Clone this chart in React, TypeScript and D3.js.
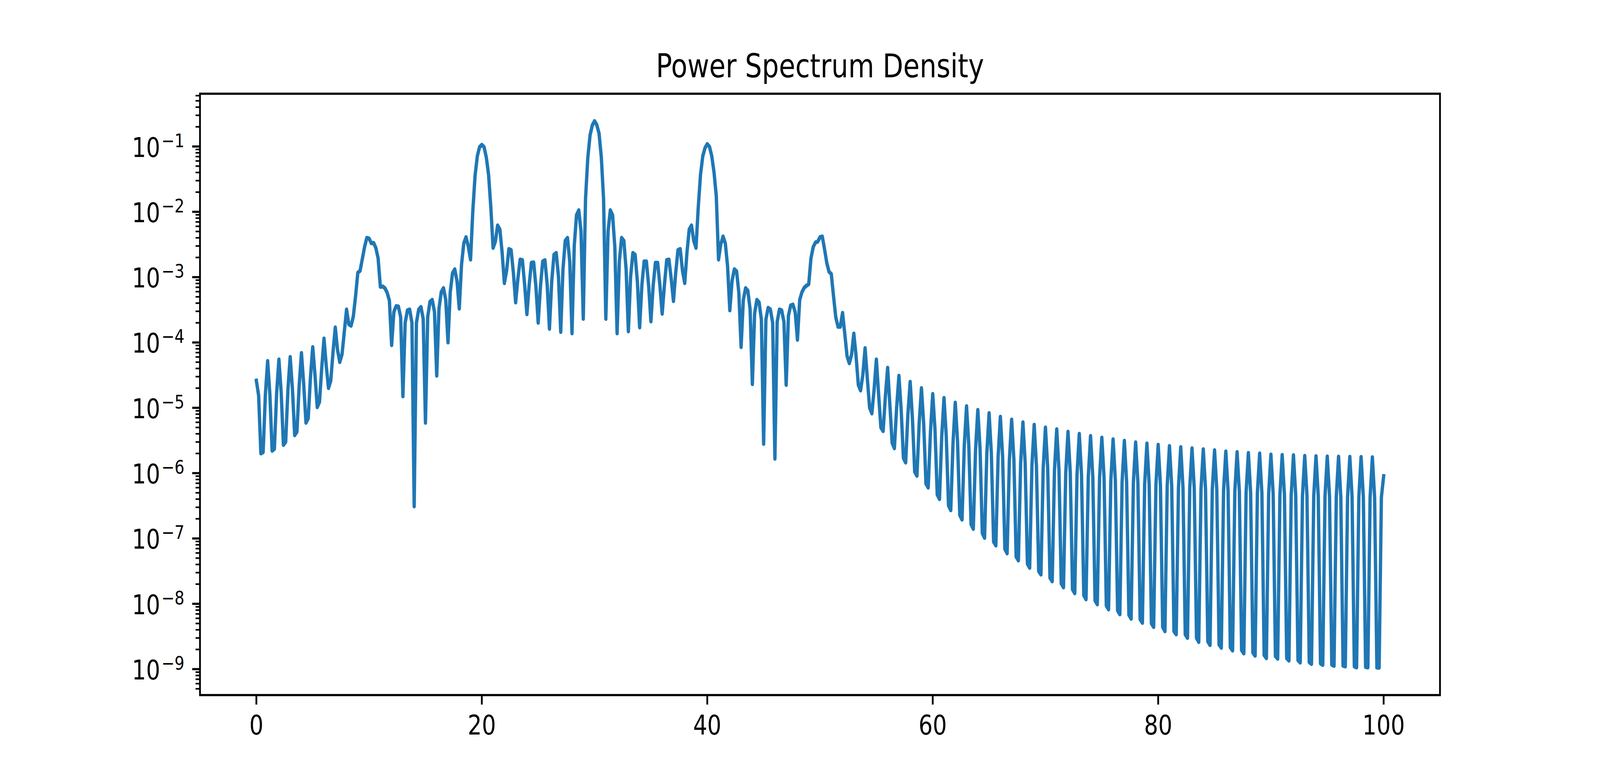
import * as d3 from 'd3';
import React from 'react';

// PSD, bins of 0.2 Hz; every row below covers 1 Hz (5 bins)
const psd00to20 = [
	2.6e-5, 1.55e-5, 2.0e-6, 2.1e-6, 1.6e-5,
	5.2e-5, 1.6e-5, 2.2e-6, 2.35e-6, 1.7e-5,
	5.5e-5, 1.74e-5, 2.7e-6, 3.0e-6, 1.9e-5,
	6.0e-5, 1.95e-5, 3.8e-6, 4.3e-6, 2.24e-5,
	6.9e-5, 2.3e-5, 5.9e-6, 6.9e-6, 2.95e-5,
	8.5e-5, 3.2e-5, 1.02e-5, 1.23e-5, 4.1e-5,
	1.15e-4, 4.4e-5, 2.0e-5, 2.6e-5, 7.1e-5,
	1.7e-4, 7.7e-5, 5.0e-5, 6.6e-5, 1.45e-4,
	3.2e-4, 1.9e-4, 1.8e-4, 2.5e-4, 5.1e-4,
	1.17e-3, 1.25e-3, 1.9e-3, 2.9e-3, 4.0e-3,
	3.9e-3, 3.3e-3, 3.35e-3, 2.8e-3, 1.95e-3,
	7.1e-4, 7.2e-4, 6.8e-4, 5.8e-4, 4.4e-4,
	9.1e-5, 2.95e-4, 3.6e-4, 3.55e-4, 2.45e-4,
	1.5e-5, 2.0e-4, 3.1e-4, 3.2e-4, 2.0e-4,
	3.1e-7, 2.0e-4, 3.2e-4, 3.5e-4, 2.3e-4,
	5.9e-6, 2.45e-4, 4.2e-4, 4.5e-4, 2.95e-4,
	3.1e-5, 3.3e-4, 5.9e-4, 6.8e-4, 4.5e-4,
	1.0e-4, 5.9e-4, 1.15e-3, 1.32e-3, 8.7e-4,
	3.3e-4, 1.55e-3, 3.3e-3, 4.1e-3, 2.95e-3,
	1.86e-3, 1.02e-2, 3.55e-2, 7.1e-2, 9.8e-2,
];

const psd20to40 = [
	1.06e-1, 9.8e-2, 6.8e-2, 3.7e-2, 1.17e-2,
	2.8e-3, 3.5e-3, 6.2e-3, 5.4e-3, 2.4e-3,
	8.1e-4, 1.26e-3, 2.7e-3, 2.6e-3, 1.17e-3,
	4.1e-4, 9.5e-4, 1.86e-3, 1.82e-3, 7.6e-4,
	2.7e-4, 7.6e-4, 1.66e-3, 1.68e-3, 7.1e-4,
	2.0e-4, 7.1e-4, 1.74e-3, 1.82e-3, 7.6e-4,
	1.62e-4, 8.5e-4, 2.2e-3, 2.35e-3, 1.02e-3,
	1.45e-4, 1.32e-3, 3.6e-3, 4.0e-3, 1.74e-3,
	1.38e-4, 3.0e-3, 8.9e-3, 1.06e-2, 5.0e-3,
	2.3e-4, 1.58e-2, 6.65e-2, 1.48e-1, 2.11e-1,
	2.45e-1, 2.14e-1, 1.58e-1, 6.9e-2, 1.58e-2,
	2.3e-4, 5.0e-3, 1.06e-2, 8.9e-3, 2.9e-3,
	1.38e-4, 1.74e-3, 4.0e-3, 3.6e-3, 1.32e-3,
	1.48e-4, 1.02e-3, 2.35e-3, 2.2e-3, 8.5e-4,
	1.7e-4, 7.6e-4, 1.74e-3, 1.74e-3, 7.4e-4,
	2.1e-4, 7.4e-4, 1.66e-3, 1.66e-3, 7.4e-4,
	2.75e-4, 7.6e-4, 1.82e-3, 1.86e-3, 9.5e-4,
	4.3e-4, 1.17e-3, 2.6e-3, 2.7e-3, 1.26e-3,
	8.1e-4, 2.4e-3, 5.4e-3, 6.2e-3, 3.6e-3,
	2.8e-3, 1.17e-2, 3.7e-2, 7.1e-2, 9.5e-2,
];

const psd40to60 = [
	1.09e-1, 9.9e-2, 7.1e-2, 4.0e-2, 1.74e-2,
	1.86e-3, 3.2e-3, 4.2e-3, 3.3e-3, 1.48e-3,
	3.1e-4, 8.8e-4, 1.32e-3, 1.23e-3, 5.8e-4,
	8.5e-5, 4.5e-4, 6.8e-4, 6.2e-4, 3.2e-4,
	2.3e-5, 2.8e-4, 4.5e-4, 4.1e-4, 2.24e-4,
	2.8e-6, 2.24e-4, 3.4e-4, 3.2e-4, 2.0e-4,
	1.66e-6, 2.07e-4, 3.2e-4, 3.1e-4, 2.07e-4,
	2.24e-5, 2.57e-4, 3.7e-4, 3.8e-4, 2.9e-4,
	1.1e-4, 4.5e-4, 5.9e-4, 6.9e-4, 7.4e-4,
	7.8e-4, 1.95e-3, 2.9e-3, 3.4e-3, 3.5e-3,
	4.1e-3, 4.2e-3, 2.7e-3, 1.66e-3, 1.21e-3,
	1.12e-3, 5.1e-4, 2.43e-4, 1.74e-4, 1.74e-4,
	2.84e-4, 1.35e-4, 6.2e-5, 4.8e-5, 6.5e-5,
	1.37e-4, 6.2e-5, 2.24e-5, 1.84e-5, 3.2e-5,
	8.2e-5, 2.8e-5, 1.0e-5, 8.2e-6, 1.9e-5,
	5.5e-5, 1.6e-5, 5.0e-6, 4.4e-6, 1.5e-5,
	4.1e-5, 1.1e-5, 2.9e-6, 2.4e-6, 1.02e-5,
	3.1e-5, 9.4e-6, 1.7e-6, 1.45e-6, 8.1e-6,
	2.5e-5, 6.9e-6, 1.05e-6, 9.1e-7, 5.9e-6,
	2.0e-5, 5.6e-6, 6.9e-7, 6.0e-7, 4.3e-6,
];

const psd60to80 = [
	1.63e-5, 4.7e-6, 4.7e-7, 4.0e-7, 3.7e-6,
	1.42e-5, 3.7e-6, 3.2e-7, 2.7e-7, 2.9e-6,
	1.2e-5, 3.1e-6, 2.28e-7, 1.94e-7, 2.66e-6,
	1.06e-5, 2.66e-6, 1.65e-7, 1.4e-7, 2.32e-6,
	9.3e-6, 2.32e-6, 1.2e-7, 1.02e-7, 2.02e-6,
	8.3e-6, 2.02e-6, 8.9e-8, 7.8e-8, 1.76e-6,
	7.3e-6, 1.8e-6, 6.9e-8, 5.9e-8, 1.6e-6,
	6.6e-6, 1.62e-6, 5.25e-8, 4.6e-8, 1.43e-6,
	6.0e-6, 1.45e-6, 4.1e-8, 3.55e-8, 1.3e-6,
	5.5e-6, 1.3e-6, 3.16e-8, 2.8e-8, 1.19e-6,
	5.0e-6, 1.19e-6, 2.5e-8, 2.2e-8, 1.11e-6,
	4.7e-6, 1.11e-6, 2.04e-8, 1.78e-8, 1.01e-6,
	4.3e-6, 1.03e-6, 1.66e-8, 1.45e-8, 9.5e-7,
	4.0e-6, 9.5e-7, 1.35e-8, 1.17e-8, 8.8e-7,
	3.7e-6, 8.8e-7, 1.12e-8, 9.8e-9, 8.5e-7,
	3.5e-6, 8.5e-7, 9.4e-9, 8.2e-9, 7.8e-7,
	3.3e-6, 7.8e-7, 7.9e-9, 6.9e-9, 7.4e-7,
	3.13e-6, 7.4e-7, 6.8e-9, 5.9e-9, 7.2e-7,
	2.96e-6, 7.2e-7, 5.8e-9, 5.1e-9, 6.8e-7,
	2.84e-6, 6.8e-7, 5.0e-9, 4.4e-9, 6.6e-7,
];

const psd80to100 = [
	2.72e-6, 6.6e-7, 4.4e-9, 3.8e-9, 6.4e-7,
	2.6e-6, 6.4e-7, 3.8e-9, 3.4e-9, 6.05e-7,
	2.5e-6, 6.05e-7, 3.4e-9, 3.0e-9, 5.9e-7,
	2.4e-6, 5.9e-7, 3.0e-9, 2.6e-9, 5.7e-7,
	2.32e-6, 5.7e-7, 2.65e-9, 2.33e-9, 5.6e-7,
	2.24e-6, 5.6e-7, 2.37e-9, 2.12e-9, 5.4e-7,
	2.15e-6, 5.4e-7, 2.15e-9, 1.92e-9, 5.3e-7,
	2.1e-6, 5.3e-7, 1.95e-9, 1.74e-9, 5.1e-7,
	2.04e-6, 5.1e-7, 1.79e-9, 1.6e-9, 5.0e-7,
	2.0e-6, 5.0e-7, 1.64e-9, 1.47e-9, 4.8e-7,
	1.93e-6, 4.8e-7, 1.58e-9, 1.44e-9, 4.7e-7,
	1.9e-6, 4.7e-7, 1.47e-9, 1.35e-9, 4.6e-7,
	1.88e-6, 4.6e-7, 1.37e-9, 1.26e-9, 4.5e-7,
	1.84e-6, 4.5e-7, 1.28e-9, 1.2e-9, 4.47e-7,
	1.82e-6, 4.47e-7, 1.22e-9, 1.16e-9, 4.44e-7,
	1.8e-6, 4.44e-7, 1.17e-9, 1.12e-9, 4.37e-7,
	1.79e-6, 4.37e-7, 1.13e-9, 1.1e-9, 4.34e-7,
	1.78e-6, 4.34e-7, 1.1e-9, 1.06e-9, 4.3e-7,
	1.77e-6, 4.3e-7, 1.08e-9, 1.06e-9, 4.27e-7,
	1.75e-6, 4.27e-7, 1.06e-9, 1.05e-9, 4.27e-7,
	9.0e-7,
];

const freqStep = 0.2;
const freqTicks = [0, 20, 40, 60, 80, 100];
const decadeExponents = [-9, -8, -7, -6, -5, -4, -3, -2, -1];
const minorSubs = [2, 3, 4, 5, 6, 7, 8, 9];
const title = 'Power Spectrum Density';

// figure is 10x4 in at 500 dpi, so 1pt = 500/72 px
const pt = 500 / 72;
const width = 5000;
const height = 2000;
const margin = { top: 240, right: 500, bottom: 220, left: 625 };
const font = '"DejaVu Sans", sans-serif';
const lineColor = '#1f77b4';
const tickSize = 10 * pt;

interface Point {
	freq: number;
	p: number;
}

const data: Point[] = [
	...psd00to20,
	...psd20to40,
	...psd40to60,
	...psd60to80,
	...psd80to100,
].map((p, i) => ({ freq: i * freqStep, p }));

const App = () => {
	const innerWidth = width - margin.left - margin.right;
	const innerHeight = height - margin.top - margin.bottom;

	// matplotlib-style 5% margins (in log space for y)
	const [fMin, fMax] = d3.extent(data, d => d.freq) as [number, number];
	const fPad = (fMax - fMin) * 0.05;
	const xScale = d3
		.scaleLinear()
		.domain([fMin - fPad, fMax + fPad])
		.range([0, innerWidth]);

	const [pMin, pMax] = d3.extent(data, d => d.p) as [number, number];
	const lo = Math.log10(pMin);
	const hi = Math.log10(pMax);
	const lPad = (hi - lo) * 0.05;
	const yScale = d3
		.scaleLog()
		.domain([10 ** (lo - lPad), 10 ** (hi + lPad)])
		.range([innerHeight, 0]);

	const [dLo, dHi] = yScale.domain();
	const minorTicks = d3
		.range(Math.floor(Math.log10(dLo)), Math.ceil(Math.log10(dHi)))
		.flatMap(e => minorSubs.map(s => s * 10 ** e))
		.filter(v => v >= dLo && v <= dHi);

	const line = d3
		.line<Point>()
		.x(d => xScale(d.freq))
		.y(d => yScale(d.p));

	// the browser window is narrower than the figure, so the 5000x2000
	// figure is mapped onto whatever the window is
	return (
		<svg
			viewBox={`0 0 ${width} ${height}`}
			preserveAspectRatio="none"
			style={{
				position: 'fixed',
				left: 0,
				top: 0,
				width: '100vw',
				height: '100vh',
				display: 'block',
				background: '#fff',
			}}
			fontFamily={font}
		>
			<g transform={`translate(${margin.left},${margin.top})`}>
				<path
					d={line(data) || ''}
					fill="none"
					stroke={lineColor}
					strokeWidth={1.5 * pt}
					strokeLinejoin="round"
					strokeLinecap="square"
				/>
				<rect
					width={innerWidth}
					height={innerHeight}
					fill="none"
					stroke="#000"
					strokeWidth={0.8 * pt}
				/>
				{freqTicks.map(t => (
					<g key={t} transform={`translate(${xScale(t)},${innerHeight})`}>
						<line y2={3.5 * pt} stroke="#000" strokeWidth={0.8 * pt} />
						<text
							y={7 * pt + 0.76 * tickSize}
							textAnchor="middle"
							fontSize={tickSize}
						>
							{t}
						</text>
					</g>
				))}
				{minorTicks.map(v => (
					<line
						key={v}
						x1={-2 * pt}
						x2={0}
						y1={yScale(v)}
						y2={yScale(v)}
						stroke="#000"
						strokeWidth={0.6 * pt}
					/>
				))}
				{decadeExponents.map(e => (
					<g key={e} transform={`translate(0,${yScale(10 ** e)})`}>
						<line x1={-3.5 * pt} x2={0} stroke="#000" strokeWidth={0.8 * pt} />
						<text
							x={-7 * pt}
							y={0.38 * tickSize}
							textAnchor="end"
							fontSize={tickSize}
						>
							10
							<tspan dx={4} dy={-0.36 * tickSize} fontSize={0.7 * tickSize}>
								{`\u2212${-e}`}
							</tspan>
						</text>
					</g>
				))}
				<text
					x={innerWidth / 2}
					y={-6 * pt}
					textAnchor="middle"
					fontSize={12 * pt}
				>
					{title}
				</text>
			</g>
		</svg>
	);
};

export default App;
